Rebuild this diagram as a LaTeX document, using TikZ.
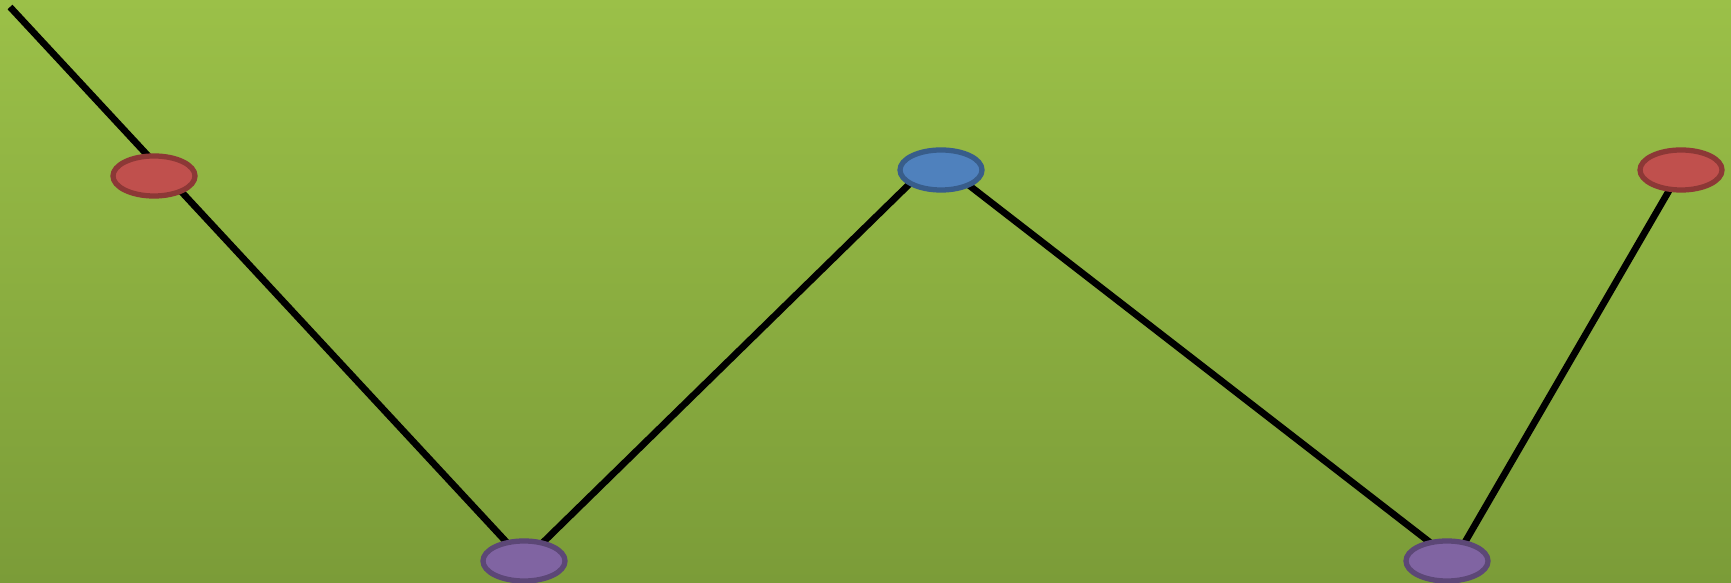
\documentclass[tikz,border=0pt]{standalone}
\usepackage{tikz}
\usetikzlibrary{shapes.geometric}
\usetikzlibrary{backgrounds}

\begin{document}
\begin{tikzpicture}[x=0.01cm, y=-0.01cm, line join=round]

			% Colors (office theme)
			\definecolor{greenTop}{RGB}{155,192,72}
			\definecolor{greenBot}{RGB}{123,156,56}
			\definecolor{redF}{RGB}{192,80,77}
			\definecolor{redD}{RGB}{140,56,54}
			\definecolor{blueF}{RGB}{79,129,189}
			\definecolor{blueD}{RGB}{56,93,138}
			\definecolor{purpF}{RGB}{128,100,162}
			\definecolor{purpD}{RGB}{92,71,118}

			\tikzset{
				dot/.style={ellipse, minimum width=0.82cm, minimum height=0.40cm, inner sep=0pt, line width=1.5pt},
				dotR/.style={dot, draw=redD, fill=redF},
				dotB/.style={dot, draw=blueD, fill=blueF},
				dotP/.style={dot, draw=purpD, fill=purpF},
				zig/.style={line width=1.9pt, draw=black},
			}

			\useasboundingbox (0,0) rectangle (1731,583);

			% --- points
			\coordinate (start) at (10,7);
			\coordinate (apex) at (935,159);
			\node[dotR] (r1) at (154,176) {};
			\node[dotP] (p1) at (524,561) {};
			\node[dotB] (b1) at (941,170) {};
			\node[dotP] (p2) at (1447,561) {};
			\node[dotR] (r2) at (1681,170) {};

			% --- background and zigzag (behind the dots)
			\begin{pgfonlayer}{background}
				\shade[top color=greenTop, bottom color=greenBot] (0,0) rectangle (1731,583);
				\draw[zig] (start) -- (p1.center) -- (apex) -- ([xshift=0.07cm]p2.center) -- (r2.center);
			\end{pgfonlayer}

\end{tikzpicture}
\end{document}
